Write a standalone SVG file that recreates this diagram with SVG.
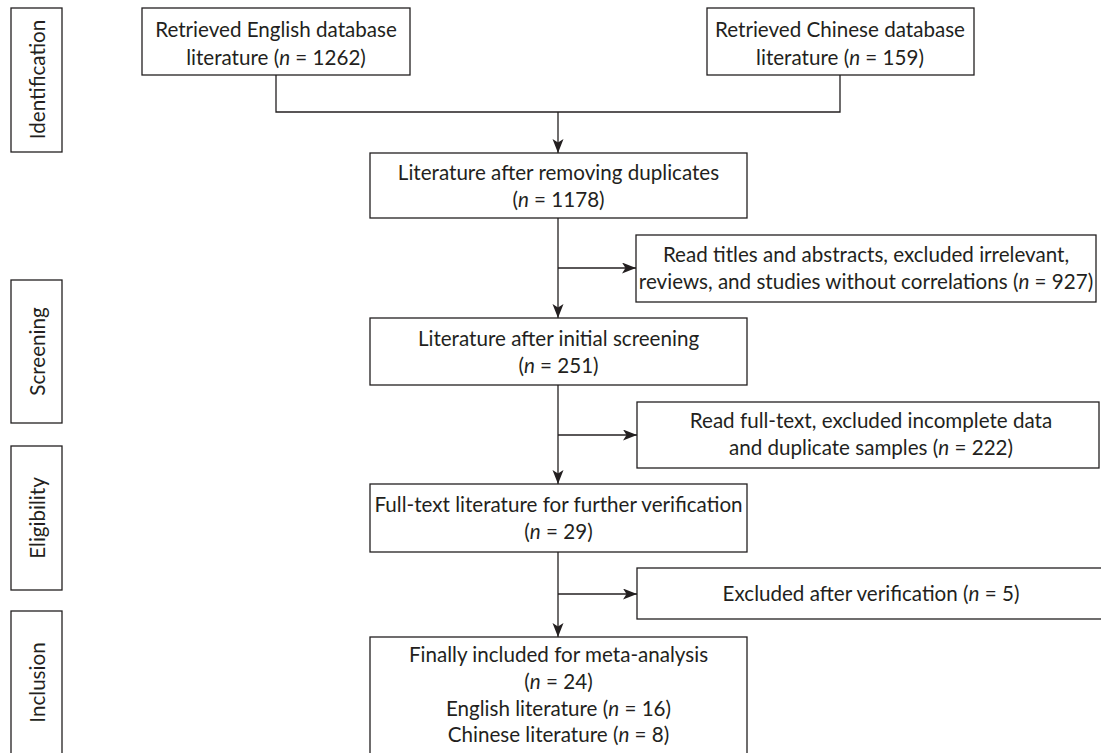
<svg xmlns="http://www.w3.org/2000/svg" width="1101" height="753" viewBox="0 0 1101 753">
<style>
.box{fill:#fff;stroke:#231f20;stroke-width:1.3}
.t{font-family:Lato,"Liberation Sans",sans-serif;font-size:20.6px;fill:#231f20;text-anchor:middle}
.i{font-style:italic}
.ln{fill:none;stroke:#231f20;stroke-width:1.3}
</style>
<defs>
<marker id="ah" markerUnits="userSpaceOnUse" markerWidth="16" markerHeight="14" refX="14" refY="5.5" orient="auto">
<path d="M0,0 L14,5.5 L0,11 L3.5,5.5 z" fill="#231f20"/>
</marker>
</defs>
<g id="stages">
<g id="stage-identification"><rect class="box" x="11" y="8" width="51" height="144"/><text class="t" transform="translate(44.5,79.5) rotate(-90)">Identification</text></g>
<g id="stage-screening"><rect class="box" x="11" y="280" width="51" height="143"/><text class="t" transform="translate(44.5,351.5) rotate(-90)">Screening</text></g>
<g id="stage-eligibility"><rect class="box" x="11" y="446" width="51" height="144"/><text class="t" transform="translate(44.5,518) rotate(-90)">Eligibility</text></g>
<g id="stage-inclusion"><rect class="box" x="11" y="611" width="51" height="150"/><text class="t" transform="translate(44.5,682.5) rotate(-90)">Inclusion</text></g>
</g>
<g id="connectors">
<path class="ln" d="M276,75 V112 H840 V75"/>
<path class="ln" d="M558,112 V153" marker-end="url(#ah)"/>
<path class="ln" d="M558,218 V318" marker-end="url(#ah)"/>
<path class="ln" d="M558,268 H636" marker-end="url(#ah)"/>
<path class="ln" d="M558,385 V484" marker-end="url(#ah)"/>
<path class="ln" d="M558,435 H637" marker-end="url(#ah)"/>
<path class="ln" d="M558,552 V637" marker-end="url(#ah)"/>
<path class="ln" d="M558,594 H637" marker-end="url(#ah)"/>
</g>
<g id="n-english"><rect class="box" x="142" y="8" width="268" height="67"/>
<text class="t" x="276" y="37">Retrieved English database</text>
<text class="t" x="276" y="65">literature (<tspan class="i">n</tspan> = 1262)</text></g>
<g id="n-chinese"><rect class="box" x="707" y="8" width="267" height="67"/>
<text class="t" x="840" y="37">Retrieved Chinese database</text>
<text class="t" x="840" y="65">literature (<tspan class="i">n</tspan> = 159)</text></g>
<g id="n-dedup"><rect class="box" x="370" y="153" width="377" height="65"/>
<text class="t" x="558.5" y="180">Literature after removing duplicates</text>
<text class="t" x="558.5" y="207">(<tspan class="i">n</tspan> = 1178)</text></g>
<g id="n-excl1"><rect class="box" x="636" y="235" width="460" height="67"/>
<text class="t" x="866" y="262">Read titles and abstracts, excluded irrelevant,</text>
<text class="t" x="866" y="289">reviews, and studies without correlations (<tspan class="i">n</tspan> = 927)</text></g>
<g id="n-screen"><rect class="box" x="370" y="318" width="377" height="67"/>
<text class="t" x="558.5" y="346">Literature after initial screening</text>
<text class="t" x="558.5" y="373">(<tspan class="i">n</tspan> = 251)</text></g>
<g id="n-excl2"><rect class="box" x="637" y="402" width="462" height="66"/>
<text class="t" x="871" y="428">Read full-text, excluded incomplete data</text>
<text class="t" x="871" y="455">and duplicate samples (<tspan class="i">n</tspan> = 222)</text></g>
<g id="n-fulltext"><rect class="box" x="370" y="484" width="377" height="68"/>
<text class="t" x="558.5" y="512">Full-text literature for further verification</text>
<text class="t" x="558.5" y="539">(<tspan class="i">n</tspan> = 29)</text></g>
<g id="n-excl3"><rect class="box" x="637" y="568" width="470" height="51"/>
<text class="t" x="871" y="601">Excluded after verification (<tspan class="i">n</tspan> = 5)</text></g>
<g id="n-final"><rect class="box" x="370" y="637" width="377" height="125"/>
<text class="t" x="558.5" y="662">Finally included for meta-analysis</text>
<text class="t" x="558.5" y="689">(<tspan class="i">n</tspan> = 24)</text>
<text class="t" x="558.5" y="716">English literature (<tspan class="i">n</tspan> = 16)</text>
<text class="t" x="558.5" y="742">Chinese literature (<tspan class="i">n</tspan> = 8)</text></g>
</svg>
